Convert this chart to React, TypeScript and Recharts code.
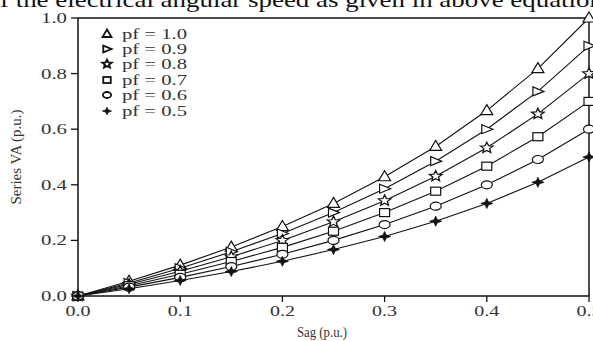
import React from "react";
import { LineChart, Line, XAxis, YAxis, ReferenceLine } from "recharts";

const sagValues = [0, 0.05, 0.1, 0.15, 0.2, 0.25, 0.3, 0.35, 0.4, 0.45, 0.5];
const pf10 = [0, 0.053, 0.111, 0.176, 0.25, 0.333, 0.429, 0.538, 0.667, 0.818, 1.0];
const pf09 = [0, 0.047, 0.1, 0.159, 0.225, 0.3, 0.386, 0.485, 0.6, 0.736, 0.9];
const pf08 = [0, 0.042, 0.089, 0.141, 0.2, 0.267, 0.343, 0.431, 0.533, 0.655, 0.8];
const pf07 = [0, 0.037, 0.078, 0.124, 0.175, 0.233, 0.3, 0.377, 0.467, 0.573, 0.7];
const pf06 = [0, 0.032, 0.067, 0.106, 0.15, 0.2, 0.257, 0.323, 0.4, 0.491, 0.6];
const pf05 = [0, 0.026, 0.056, 0.088, 0.125, 0.167, 0.214, 0.269, 0.333, 0.409, 0.5];

const xTicks = [0, 0.1, 0.2, 0.3, 0.4, 0.5];
const yTicks = [0, 0.2, 0.4, 0.6, 0.8, 1.0];
const legendLabels = ["pf = 1.0", "pf = 0.9", "pf = 0.8", "pf = 0.7", "pf = 0.6", "pf = 0.5"];
const headerText = "f the electrical angular speed as given in above equation";

const seriesKeys = ["pf10", "pf09", "pf08", "pf07", "pf06", "pf05"];
const seriesArrays = [pf10, pf09, pf08, pf07, pf06, pf05];

const data = sagValues.map((s, i) => {
  const row: any = { sag: s };
  seriesKeys.forEach((k, j) => (row[k] = seriesArrays[j][i]));
  return row;
});

const INK = "#111";
const TXT = "#333";
const FONT = "'Liberation Serif', 'Times New Roman', serif";

function starPath(ro: number, ri: number) {
  const pts: string[] = [];
  for (let i = 0; i < 10; i++) {
    const r = i % 2 === 0 ? ro : ri;
    const a = -Math.PI / 2 + (i * Math.PI) / 5;
    pts.push(`${(r * Math.cos(a)).toFixed(2)},${(r * Math.sin(a)).toFixed(2)}`);
  }
  return "M" + pts.join("L") + "Z";
}

function Marker({ shape, s = 1, sw = 1.2 }: { shape: number; s?: number; sw?: number }) {
  const common = { fill: "#fff", stroke: INK, strokeWidth: sw };
  switch (shape) {
    case 0:
      return <path d={`M0,${-6 * s} L${6 * s},${4 * s} L${-6 * s},${4 * s} Z`} {...common} />;
    case 1:
      return <path d={`M${-5 * s},${-4.5 * s} L${6 * s},0 L${-5 * s},${4.5 * s} Z`} {...common} />;
    case 2:
      return <path d={starPath(6 * s, 2.7 * s)} transform={`scale(1.1,0.95)`} {...common} />;
    case 3:
      return <rect x={-5 * s} y={-4 * s} width={10 * s} height={8 * s} {...common} />;
    case 4:
      return <ellipse cx={0} cy={0} rx={5.5 * s} ry={4 * s} {...common} />;
    default:
      return (
        <path
          d={`M0,${-5 * s} L${1.6 * s},${-1.5 * s} L${6 * s},0 L${1.6 * s},${1.5 * s} L0,${5 * s} L${-1.6 * s},${1.5 * s} L${-6 * s},0 L${-1.6 * s},${-1.5 * s} Z`}
          fill={INK}
          stroke={INK}
          strokeWidth={0.8}
        />
      );
  }
}

const makeDot = (shape: number) => (props: any) => {
  const { cx, cy, index } = props;
  if (cx == null || cy == null) return <g key={`d${shape}-${index}`} />;
  return (
    <g key={`d${shape}-${index}`} transform={`translate(${cx},${cy})`}>
      <Marker shape={shape} />
    </g>
  );
};

const XTick = (props: any) => {
  const { x, y, payload } = props;
  return (
    <text
      x={x}
      y={y + 12}
      textAnchor="middle"
      fontSize={14}
      fontFamily={FONT}
      fill={TXT}
      textLength={25}
      lengthAdjust="spacingAndGlyphs"
    >
      {Number(payload.value).toFixed(1)}
    </text>
  );
};

const YTick = (props: any) => {
  const { x, y, payload } = props;
  return (
    <text
      x={x - 2}
      y={y + 5}
      textAnchor="end"
      fontSize={14}
      fontFamily={FONT}
      fill={TXT}
      textLength={26}
      lengthAdjust="spacingAndGlyphs"
    >
      {Number(payload.value).toFixed(1)}
    </text>
  );
};

const legendRowsY = [34, 49, 64, 80, 95, 111];

export default function App() {
  return (
    <div style={{ position: "absolute", left: 0, top: 0, width: 593, height: 341, background: "#fff", overflow: "hidden" }}>
      <LineChart
        width={593}
        height={341}
        data={data}
        margin={{ top: 18, right: 4, left: 0, bottom: 0 }}
      >
        <XAxis
          dataKey="sag"
          type="number"
          domain={[0, 0.5]}
          ticks={xTicks}
          height={45}
          tickSize={6}
          axisLine={{ stroke: INK, strokeWidth: 1.5 }}
          tickLine={{ stroke: INK, strokeWidth: 1.3 }}
          tick={<XTick />}
          interval={0}
        />
        <YAxis
          type="number"
          domain={[0, 1]}
          ticks={yTicks}
          width={78}
          tickSize={7}
          axisLine={{ stroke: INK, strokeWidth: 1.5 }}
          tickLine={{ stroke: INK, strokeWidth: 1.3 }}
          tick={<YTick />}
          interval={0}
        />
        <ReferenceLine y={1} stroke={INK} strokeWidth={1.5} />
        <ReferenceLine x={0.5} stroke={INK} strokeWidth={1.5} />
        {seriesKeys.map((k, i) => (
          <Line
            key={k}
            dataKey={k}
            type="linear"
            stroke={INK}
            strokeWidth={1.1}
            dot={makeDot(i)}
            activeDot={false}
            isAnimationActive={false}
          />
        ))}
      </LineChart>
      <svg
        width={593}
        height={341}
        style={{ position: "absolute", left: 0, top: 0, pointerEvents: "none" }}
      >
        <text
          x={0}
          y={7}
          fontSize={21}
          fontFamily={FONT}
          fill="#111"
          textLength={603}
          lengthAdjust="spacingAndGlyphs"
        >
          {headerText}
        </text>
        {legendLabels.map((lab, i) => (
          <g key={lab}>
            <g transform={`translate(107,${legendRowsY[i]})`}>
              <Marker shape={i} s={0.75} sw={1.8} />
            </g>
            <text
              x={122}
              y={legendRowsY[i] + 5}
              fontSize={14}
              fontFamily={FONT}
              fill={TXT}
              textLength={65}
              lengthAdjust="spacingAndGlyphs"
            >
              {lab}
            </text>
          </g>
        ))}
        <text
          x={322}
          y={337}
          textAnchor="middle"
          fontSize={15}
          fontFamily={FONT}
          fill={TXT}
          textLength={50}
          lengthAdjust="spacingAndGlyphs"
        >
          Sag (p.u.)
        </text>
        <text
          transform="translate(21,157) rotate(-90)"
          x={0}
          y={0}
          textAnchor="middle"
          fontSize={15}
          fontFamily={FONT}
          fill={TXT}
          textLength={95}
          lengthAdjust="spacingAndGlyphs"
        >
          Series VA (p.u.)
        </text>
      </svg>
    </div>
  );
}
